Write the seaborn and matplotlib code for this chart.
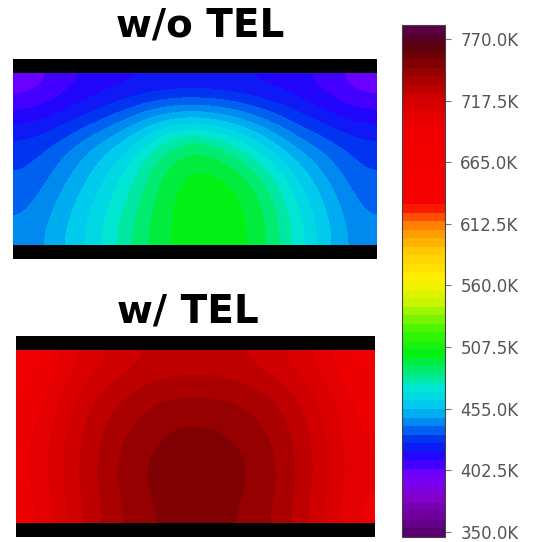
import numpy as np
import matplotlib
matplotlib.use("Agg")
import matplotlib.pyplot as plt
import seaborn as sns
from matplotlib.colors import LinearSegmentedColormap, Normalize
from matplotlib.cm import ScalarMappable

sns.set_style("white")
plt.rcParams["font.family"] = ["DejaVu Sans"]

# Temperature fields (K) sampled on a coarse grid; rows run bottom -> top
x_nodes = [0.0, 0.1, 0.2, 0.3, 0.4, 0.5, 0.6, 0.7, 0.8, 0.9, 1.0]
y_nodes = [0.0, 0.2, 0.4, 0.6, 0.8, 1.0]

temp_without_tel = [
    [442, 454, 466, 483, 497, 504, 504, 495, 476, 456, 442],
    [438, 450, 463, 478, 496, 504, 503, 494, 470, 453, 438],
    [433, 444, 457, 472, 492, 502, 498, 484, 462, 446, 433],
    [428, 436, 448, 460, 480, 492, 480, 464, 446, 436, 428],
    [414, 420, 428, 438, 450, 453, 448, 438, 428, 420, 414],
    [399, 408, 414, 417, 419, 420, 419, 417, 414, 408, 399],
]

temp_with_tel = [
    [698, 716, 730, 741, 747, 749, 747, 742, 731, 716, 700],
    [700, 718, 732, 743, 749, 751, 749, 744, 733, 718, 702],
    [700, 718, 731, 742, 748, 750, 748, 743, 732, 718, 702],
    [698, 716, 729, 738, 744, 746, 744, 739, 730, 716, 700],
    [695, 712, 724, 732, 737, 738, 737, 733, 725, 712, 698],
    [690, 705, 715, 722, 726, 727, 726, 722, 715, 705, 692],
]

panel_titles = ["w/o TEL", "w/ TEL"]
cbar_ticks = [350.0, 402.5, 455.0, 507.5, 560.0, 612.5, 665.0, 717.5, 770.0]
t_min, t_max = 345.7, 781.9

# Rainbow-to-maroon temperature colormap
cmap_nodes = [
    (345.7, (90, 0, 110)),
    (375, (130, 0, 200)),
    (395, (120, 0, 255)),
    (410, (40, 0, 255)),
    (425, (0, 40, 240)),
    (440, (0, 130, 240)),
    (455, (0, 200, 240)),
    (470, (0, 230, 220)),
    (485, (0, 235, 120)),
    (500, (0, 240, 20)),
    (520, (60, 245, 0)),
    (545, (200, 245, 0)),
    (565, (255, 240, 0)),
    (590, (255, 200, 0)),
    (610, (255, 140, 0)),
    (622, (255, 60, 0)),
    (630, (245, 0, 0)),
    (700, (240, 0, 0)),
    (725, (205, 0, 0)),
    (745, (150, 0, 0)),
    (765, (95, 0, 10)),
    (775, (85, 0, 40)),
    (781.9, (90, 0, 70)),
]
cmap = LinearSegmentedColormap.from_list(
    "temp",
    [((v - t_min) / (t_max - t_min), tuple(c / 255 for c in rgb)) for v, rgb in cmap_nodes],
).resampled(60)
norm = Normalize(vmin=t_min, vmax=t_max)

W, H = 534, 542
fig = plt.figure(figsize=(W / 100, H / 100), dpi=100)

bar = 0.081
panel_boxes = [
    [13 / W, (H - 259) / H, 364 / W, 200 / H],
    [16 / W, (H - 537) / H, 359 / W, 201 / H],
]
fields = [temp_without_tel, temp_with_tel]

for box, field in zip(panel_boxes, fields):
    ax = fig.add_axes(box)
    ax.imshow(np.array(field), origin="lower", cmap=cmap, norm=norm,
              extent=(x_nodes[0], x_nodes[-1], y_nodes[0], y_nodes[-1]),
              aspect="auto", interpolation="bicubic")
    ax.axhspan(1.0, 1.0 + bar, color="black", lw=0)
    ax.axhspan(-bar, 0.0, color="black", lw=0)
    ax.set_xlim(0, 1)
    ax.set_ylim(-bar, 1.0 + bar)
    ax.set_axis_off()

fig.text(200 / W, (H - 37) / H, panel_titles[0], ha="center", va="baseline",
         fontsize=28, fontweight="bold", color="black")
fig.text(188 / W, (H - 322) / H, panel_titles[1], ha="center", va="baseline",
         fontsize=28, fontweight="bold", color="black")

cax = fig.add_axes([402 / W, (H - 537) / H, 43 / W, 512 / H])
sm = ScalarMappable(norm=norm, cmap=cmap)
cb = fig.colorbar(sm, cax=cax, ticks=cbar_ticks)
cb.ax.set_yticklabels([f"{t:.1f}K" for t in cbar_ticks])
cb.ax.tick_params(axis="y", length=4, width=0.8, color="#777777", pad=7,
                  labelsize=12, labelcolor="#555555", right=True)
cb.outline.set_edgecolor("#444444")
cb.outline.set_linewidth(0.8)

fig.savefig("out.png", dpi=100)
